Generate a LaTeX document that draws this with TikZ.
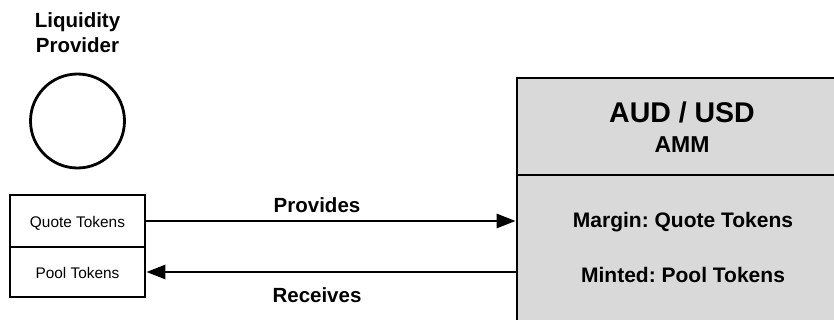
\documentclass[tikz,border=0pt]{standalone}
\usepackage{fontspec}
\setmainfont{Liberation Sans}
\usetikzlibrary{arrows.meta}
\definecolor{boxgray}{HTML}{D9D9D9}
\frenchspacing
\tikzset{
  thick3/.style={line width=2.8pt},
  smallbox/.style={draw, thick3, rectangle, minimum width=135pt, inner sep=0pt, font=\fontsize{15.4}{18}\selectfont},
  ammbox/.style={draw, thick3, rectangle, fill=boxgray, minimum width=330pt, inner sep=0pt},
  lbl/.style={inner sep=0pt, anchor=base, font=\bfseries\fontsize{20.5}{24}\selectfont},
  flow/.style={thick3, -{Triangle[length=19pt,width=14pt]}}
}
\begin{document}
\begin{tikzpicture}[x=1pt,y=-1pt]
\useasboundingbox (0,0) rectangle (834,320);
\clip (0,0) rectangle (834,320);
% Liquidity provider
\node[lbl] (lp1) at (77.5,28) {Liquidity};
\node[lbl] (lp2) at (77.5,53) {Provider};
\node[draw, thick3, circle, minimum size=94pt, inner sep=0pt] (lp) at (77.5,121) {};
\node[smallbox, minimum height=52pt] (quote) at (77.5,221) {};
\node[smallbox, minimum height=50pt] (pool) at (77.5,272) {};
\node[inner sep=0pt, anchor=base, font=\fontsize{15.4}{18}\selectfont] (quotet) at (77.5,227) {Quote Tokens};
\node[inner sep=0pt, anchor=base, font=\fontsize{15.4}{18}\selectfont] (poolt) at (77.5,278) {Pool Tokens};
% AMM
\node[ammbox, minimum height=97pt] (ammtop) at (682,126.5) {};
\node[ammbox, minimum height=165pt] (ammbody) at (682,257.5) {};
\node[inner sep=0pt, anchor=base, font=\bfseries\fontsize{28.5}{32}\selectfont] (pair) at (682,123) {AUD / USD};
\node[inner sep=0pt, anchor=base, font=\bfseries\fontsize{23}{26}\selectfont] (amm) at (682,153) {AMM};
\node[inner sep=0pt, anchor=base, font=\bfseries\fontsize{21}{24}\selectfont] (margin) at (683,227) {Margin: Quote Tokens};
\node[inner sep=0pt, anchor=base, font=\bfseries\fontsize{21}{24}\selectfont] (minted) at (683,282) {Minted: Pool Tokens};
% arrows
\draw[flow] (quote.east) -- (quote.east -| ammbody.west);
\draw[flow] (pool.east -| ammbody.west) -- (pool.east);
\node[lbl] (prov) at (317,213) {Provides};
\node[lbl] (recv) at (317,302) {Receives};
\end{tikzpicture}
\end{document}
